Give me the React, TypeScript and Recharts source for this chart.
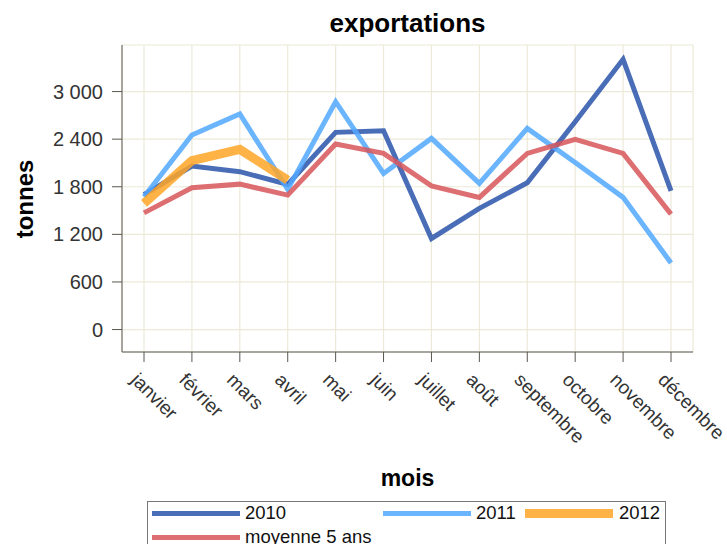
import React from 'react';
import { LineChart, Line, XAxis, YAxis, CartesianGrid } from 'recharts';

const months = ['janvier', 'février', 'mars', 'avril', 'mai', 'juin', 'juillet', 'août', 'septembre', 'octobre', 'novembre', 'décembre'];
const s2010 = [1700, 2060, 1990, 1830, 2486, 2506, 1148, 1527, 1850, 2620, 3407, 1749];
const s2011 = [1675, 2452, 2717, 1767, 2872, 1968, 2410, 1842, 2536, 2105, 1666, 840];
const s2012: (number | null)[] = [1590, 2128, 2271, 1884, null, null, null, null, null, null, null, null];
const moyenne = [1471, 1787, 1833, 1695, 2338, 2221, 1812, 1666, 2221, 2398, 2221, 1455];
const yTicks = [0, 600, 1200, 1800, 2400, 3000];

const series = [
  { key: 'y2010', name: '2010', color: '#2a54ac', width: 5 },
  { key: 'y2011', name: '2011', color: '#51a8ff', width: 5 },
  { key: 'y2012', name: '2012', color: '#ffa627', width: 9 },
  { key: 'moy', name: 'moyenne 5 ans', color: '#d7565a', width: 5 },
];

const data = months.map((m, i) => ({
  mois: m,
  y2010: s2010[i],
  y2011: s2011[i],
  y2012: s2012[i],
  moy: moyenne[i],
}));

const FONT = '"Liberation Sans", Arial, Helvetica, sans-serif';

const fmt = (v: number) =>
  v >= 1000 ? `${Math.floor(v / 1000)} ${String(v % 1000).padStart(3, '0')}` : String(v);

const XTick = (props: any) => {
  const { x, y, payload } = props;
  const ax = x - 14;
  const ay = y + 19;
  return (
    <text x={ax} y={ay} transform={`rotate(45, ${ax}, ${ay})`} textAnchor="start" fontSize={19} fill="#333" fontFamily={FONT}>
      {payload.value}
    </text>
  );
};

const legendPos = [
  { left: 152, top: 513, text: 245 },
  { left: 383, top: 513, text: 476 },
  { left: 525, top: 513, text: 619 },
  { left: 152, top: 537, text: 245 },
];

export default function App() {
  return (
    <div style={{ position: 'absolute', left: 0, top: 0, width: 727, height: 544, overflow: 'hidden', background: '#fff', fontFamily: FONT }}>
      <LineChart width={727} height={544} data={data} margin={{ top: 45, right: 34, bottom: 0, left: 0 }}>
        <CartesianGrid stroke="#ece9d8" strokeWidth={1.2} />
        <XAxis
          dataKey="mois"
          height={192}
          padding={{ left: 22, right: 22 }}
          tickSize={10}
          tickMargin={0}
          tick={<XTick />}
          interval={0}
          stroke="#5a5750"
          tickLine={{ stroke: '#5a5750' }}
        />
        <XAxis xAxisId="top" orientation="top" dataKey="mois" height={0} tick={false} tickLine={false} stroke="#5a5750" />
        <YAxis
          width={122}
          domain={[-283, 3587]}
          ticks={yTicks}
          tickFormatter={fmt}
          tickSize={10}
          tickMargin={9}
          tick={{ fontSize: 20, fill: '#333', fontFamily: FONT }}
          stroke="#5a5750"
          allowDataOverflow
        />
        <YAxis yAxisId="right" orientation="right" width={0} tick={false} tickLine={false} stroke="#5a5750" domain={[-283, 3587]} />
        {series.map((s) => (
          <Line
            key={s.key}
            dataKey={s.key}
            name={s.name}
            type="linear"
            stroke={s.color}
            strokeOpacity={0.85}
            strokeWidth={s.width}
            dot={false}
            activeDot={false}
            isAnimationActive={false}
          />
        ))}
      </LineChart>
      <div style={{ position: 'absolute', left: 0, width: 815, top: 8, textAlign: 'center', fontSize: 26, fontWeight: 'bold', color: '#000', lineHeight: '30px' }}>
        exportations
      </div>
      <div style={{ position: 'absolute', left: 0, width: 815, top: 464, textAlign: 'center', fontSize: 23, fontWeight: 'bold', color: '#000', lineHeight: '28px' }}>
        mois
      </div>
      <svg style={{ position: 'absolute', left: 0, top: 0 }} width={60} height={400}>
        <text x={33} y={199} transform="rotate(-90, 33, 199)" textAnchor="middle" fontSize={24} fontWeight="bold" fontFamily={FONT} fill="#000">
          tonnes
        </text>
      </svg>
      <div style={{ position: 'absolute', left: 147, top: 501, width: 519, height: 60, border: '1px solid #777', boxSizing: 'border-box' }} />
      {series.map((s, i) => (
        <React.Fragment key={s.key}>
          <div
            style={{
              position: 'absolute',
              left: legendPos[i].left,
              top: legendPos[i].top - s.width / 2,
              width: 88,
              height: s.width,
              background: s.color,
              opacity: 0.85,
            }}
          />
          <div style={{ position: 'absolute', left: legendPos[i].text, top: legendPos[i].top - 11, fontSize: 18.5, lineHeight: '22px', color: '#111' }}>
            {s.name}
          </div>
        </React.Fragment>
      ))}
    </div>
  );
}
